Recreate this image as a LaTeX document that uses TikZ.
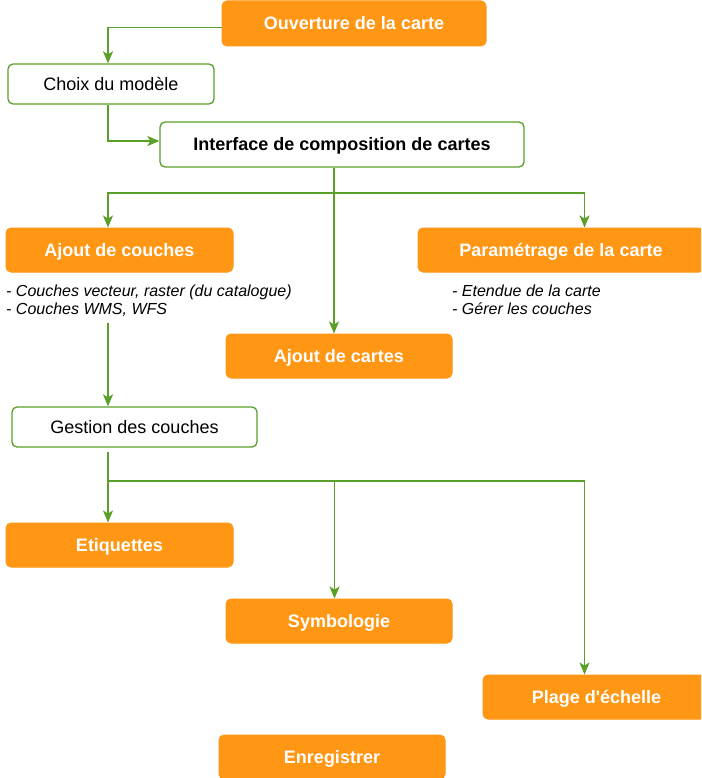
\documentclass[tikz,border=0pt]{standalone}
\usepackage{fontspec}
\setmainfont{Liberation Sans}[Ligatures=TeXOff]
\usetikzlibrary{arrows.meta}
\definecolor{boxorange}{RGB}{255,150,20}
\definecolor{linegreen}{RGB}{90,160,40}
\begin{document}
\begin{tikzpicture}[x=1pt,y=-1pt,
  obox/.style={draw=boxorange,fill=boxorange,rounded corners=5pt,line width=1pt,
    text=white,font=\fontsize{18}{21}\selectfont\bfseries,inner sep=0pt,anchor=center,
    text height=15pt,text depth=2pt},
  wbox/.style={draw=linegreen,fill=white,rounded corners=5pt,line width=1.3pt,
    text=black,font=\fontsize{18}{21}\selectfont,inner sep=0pt,anchor=center,
    text height=15pt,text depth=2pt},
  note/.style={font=\fontsize{16}{18}\selectfont\itshape,inner sep=0pt,anchor=base west},
  conn/.style={draw=linegreen,line width=1.5pt},
  arr/.style={conn,-{Stealth[length=12pt,width=10pt,inset=3pt]}}]
\clip (0,0) rectangle (701,778);
\fill[white] (0,0) rectangle (701,778);
% nodes
\node[obox,minimum width=264pt,minimum height=45pt] (ouv) at (354,23.5) {Ouverture de la carte};
\node[wbox,minimum width=206pt,minimum height=40pt] (choix) at (111,84) {Choix du modèle};
\node[wbox,minimum width=364pt,minimum height=45pt,font=\fontsize{18}{21}\selectfont\bfseries] (iface) at (342,144.5) {Interface de composition de cartes};
\node[obox,minimum width=227pt,minimum height=44pt] (ajc) at (119.5,250) {Ajout de couches};
\node[obox,minimum width=286pt,minimum height=44pt] (param) at (561,250) {Paramétrage de la carte};
\node[obox,minimum width=226pt,minimum height=44pt] (acartes) at (339,356) {Ajout de cartes};
\node[wbox,minimum width=245pt,minimum height=40pt] (gest) at (134.5,427) {Gestion des couches};
\node[obox,minimum width=227pt,minimum height=44pt] (etiq) at (119.5,545) {Etiquettes};
\node[obox,minimum width=226pt,minimum height=44pt] (symb) at (339,621) {Symbologie};
\node[obox,minimum width=227pt,minimum height=44pt] (plage) at (596.5,697) {Plage d'échelle};
\node[obox,minimum width=226pt,minimum height=44pt] (enreg) at (332,757) {Enregistrer};
% notes
\node[note] (ajl1) at (6,296) {- Couches vecteur, raster (du catalogue)};
\node[note] (ajl2) at (6,314) {- Couches WMS, WFS};
\node[note] (pml1) at (452,296) {- Etendue de la carte};
\node[note] (pml2) at (452,314) {- Gérer les couches};
% junctions
\coordinate (top) at (334,-5);
\coordinate (j1) at (334,193);
\coordinate (c1) at (108,323);
\coordinate (j2) at (108,481);
% connectors
\draw[conn] (top) -- ([xshift=-20pt]ouv.north);
\draw[arr] ([yshift=-4pt]ouv.west) -| ([xshift=-3pt]choix.north);
\draw[arr] ([xshift=-3pt]choix.south) |- ([yshift=3.5pt]iface.west);
\draw[conn] ([xshift=-8pt]iface.south) -- (j1);
\draw[arr] (j1) -| ([xshift=-11.5pt]ajc.north);
\draw[arr] (j1) -| ([xshift=23.5pt]param.north);
\draw[arr] (j1) -- (j1 |- acartes.north);
\draw[arr] (c1) -- ([xshift=-26.5pt]gest.north);
\draw[conn] ([xshift=-26.5pt,yshift=-4pt]gest.south) -- (j2);
\draw[arr] (j2) -- ([xshift=-11.5pt]etiq.north);
\draw[arr] (j2) -| ([xshift=-4.5pt]symb.north);
\draw[arr] (j2) -| ([xshift=-12pt]plage.north);
\end{tikzpicture}
\end{document}
